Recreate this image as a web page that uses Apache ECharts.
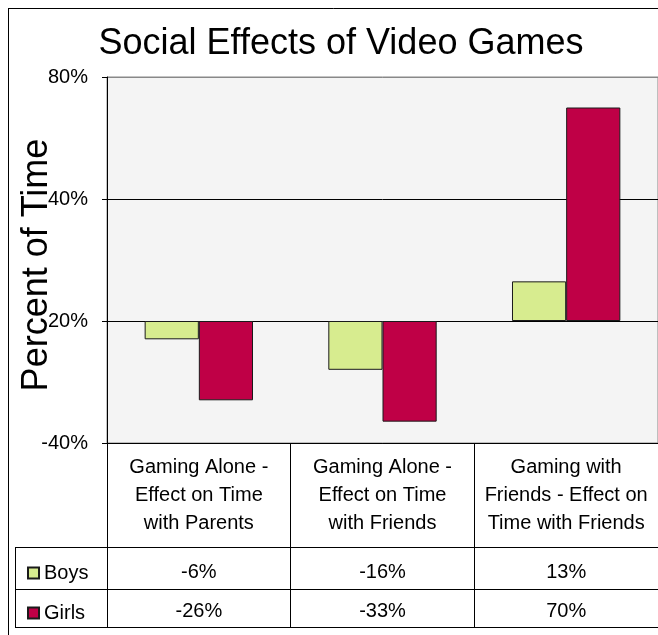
<!DOCTYPE html>
<html>
<head>
<meta charset="utf-8">
<script src="https://cdn.jsdelivr.net/npm/echarts@6/dist/echarts.min.js"></script>
<style>
html,body{margin:0;padding:0;background:#fff;overflow:hidden;}
#chart{width:658px;height:635px;}
</style>
</head>
<body>
<div id="chart"></div>
<script>
const titleText = 'Social Effects of Video Games';
const yAxisTitle = 'Percent of Time';
const categories = ['Gaming Alone -\nEffect on Time\nwith Parents', 'Gaming Alone -\nEffect on Time\nwith Friends', 'Gaming with\nFriends - Effect on\nTime with Friends'];
const seriesNames = ['Boys', 'Girls'];
const boys = [-6, -16, 13];
const girls = [-26, -33, 70];
const yTickLabels = ['-40%', '20%', '40%', '80%'];

const FONT = 'Liberation Sans, Arial, sans-serif';
const chart = echarts.init(document.getElementById('chart'));

const option = {
  backgroundColor: '#fff',
  animation: false,
  textStyle: { fontFamily: FONT, color: '#000' },
  grid: { left: 107, top: 77, right: -4, bottom: 192, show: true, backgroundColor: '#f4f4f4', borderColor: '#888', borderWidth: 1 },
  legend: {
    data: seriesNames, orient: 'vertical', left: 22, top: 558, itemWidth: 11, itemHeight: 11, itemGap: 20,
    icon: 'rect', textStyle: { fontSize: 20, lineHeight: 20, color: '#000', fontFamily: FONT }
  },
  xAxis: [
    {
      type: 'category', data: categories, boundaryGap: true,
      axisLine: { show: true, onZero: false, lineStyle: { color: '#000', width: 1 } },
      axisTick: { show: true, length: 184, lineStyle: { color: '#000', width: 1 } },
      axisLabel: { interval: 0, fontSize: 20, lineHeight: 28, margin: 10, color: '#000', fontFamily: FONT },
      splitLine: { show: false }
    },
    {
      type: 'category', data: categories, position: 'bottom',
      axisLine: { show: false, onZero: false }, axisTick: { show: false }, splitLine: { show: false },
      axisLabel: { interval: 0, fontSize: 20, margin: 129, verticalAlign: 'middle', color: '#000', fontFamily: FONT,
        formatter: (v, i) => boys[i] + '%' }
    },
    {
      type: 'category', data: categories, position: 'bottom',
      axisLine: { show: false, onZero: false }, axisTick: { show: false }, splitLine: { show: false },
      axisLabel: { interval: 0, fontSize: 20, margin: 168, verticalAlign: 'middle', color: '#000', fontFamily: FONT,
        formatter: (v, i) => girls[i] + '%' }
    }
  ],
  yAxis: {
    type: 'value', min: -40, max: 80, interval: 40,
    axisLine: { show: true, lineStyle: { color: '#000', width: 1 } },
    axisTick: { show: true, length: 5, lineStyle: { color: '#000' } },
    axisLabel: { fontSize: 20, margin: 19, color: '#000', fontFamily: FONT, formatter: (v, i) => yTickLabels[i] },
    splitLine: { show: true, lineStyle: { color: ['#000', '#000', '#000', '#888'], width: 1 } }
  },
  series: [
    { name: seriesNames[0], type: 'bar', xAxisIndex: 0, data: boys, barGap: '0%', barCategoryGap: '41%',
      itemStyle: { color: '#d7ec8f', borderColor: '#1a1a1a', borderWidth: 1 } },
    { name: seriesNames[1], type: 'bar', xAxisIndex: 0, data: girls, barGap: '0%', barCategoryGap: '41%',
      itemStyle: { color: '#bf0046', borderColor: '#1a1a1a', borderWidth: 1 } }
  ],
  graphic: [
    { type: 'line', shape: { x1: 8.5, y1: 8.5, x2: 700, y2: 8.5 }, style: { stroke: '#000', lineWidth: 1 }, silent: true },
    { type: 'line', shape: { x1: 8.5, y1: 8, x2: 8.5, y2: 640 }, style: { stroke: '#000', lineWidth: 1 }, silent: true },
    { type: 'text', x: 341, y: 44, style: { text: titleText, fontSize: 36, fontFamily: FONT, fill: '#000', align: 'center', verticalAlign: 'middle' } },
    { type: 'text', x: 37, y: 265, rotation: Math.PI / 2, style: { text: yAxisTitle, fontSize: 36, fontFamily: FONT, fill: '#000', align: 'center', verticalAlign: 'middle' } },
    { type: 'line', shape: { x1: 15, y1: 547.5, x2: 700, y2: 547.5 }, style: { stroke: '#000', lineWidth: 1 } },
    { type: 'line', shape: { x1: 15, y1: 589.5, x2: 700, y2: 589.5 }, style: { stroke: '#000', lineWidth: 1 } },
    { type: 'line', shape: { x1: 15, y1: 627.5, x2: 700, y2: 627.5 }, style: { stroke: '#000', lineWidth: 1 } },
    { type: 'line', shape: { x1: 15.5, y1: 547, x2: 15.5, y2: 628 }, style: { stroke: '#000', lineWidth: 1 } }
  ]
};
chart.setOption(option);
</script>
</body>
</html>
